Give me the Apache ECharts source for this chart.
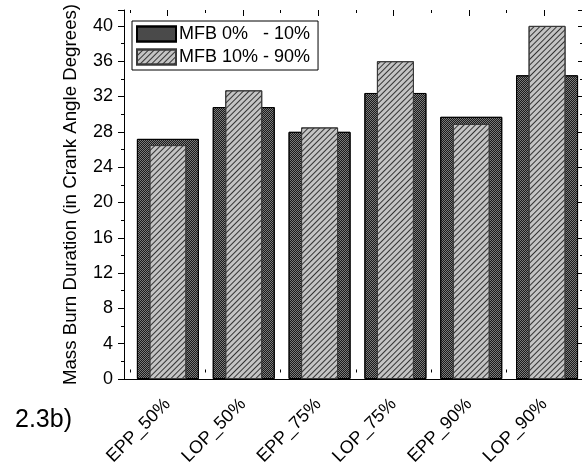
<!DOCTYPE html>
<html>
<head>
<meta charset="utf-8">
<script src="https://cdn.jsdelivr.net/npm/echarts@6/dist/echarts.min.js"></script>
<style>
html,body{margin:0;padding:0;background:#fff;}
#chart{width:582px;height:468px;}
</style>
</head>
<body>
<div id="chart"></div>
<script>
const categories = ['EPP_50%', 'LOP_50%', 'EPP_75%', 'LOP_75%', 'EPP_90%', 'LOP_90%'];
const seriesNames = ['MFB 0%   - 10%', 'MFB 10% - 90%'];
const mfb0to10 = [27.2, 30.8, 28.0, 32.4, 29.7, 34.4];
const mfb10to90 = [26.5, 32.7, 28.5, 36.0, 28.9, 40.0];
const yTicks = { min: 0, max: 41.8, interval: 4 };
const panelLabel = '2.3b)';

const FONT = 'Liberation Sans, Arial, sans-serif';
const positions = categories.map((c, i) => i + 1);

const chart = echarts.init(document.getElementById('chart'), null, { renderer: 'canvas' });

const option = {
  animation: false,
  backgroundColor: '#fff',
  textStyle: { fontFamily: FONT, color: '#000' },
  title: {
    text: panelLabel,
    left: 10,
    top: 403,
    textStyle: { fontFamily: FONT, fontSize: 25, fontWeight: 'normal', color: '#000' }
  },
  legend: {
    data: seriesNames,
    orient: 'vertical',
    left: 132,
    top: 21,
    padding: [4, 8, 4, 4],
    itemWidth: 39,
    itemHeight: 15,
    itemGap: 5,
    icon: 'rect',
    borderColor: '#000',
    borderWidth: 1,
    textStyle: { fontFamily: FONT, fontSize: 18, color: '#000', padding: [0, 0, 0, -2] }
  },
  grid: [
    { left: 124, top: 10, width: 459, bottom: 89, containLabel: false },
    { left: 130, top: 10, width: 456, bottom: 89, containLabel: false }
  ],
  xAxis: [
    {
      type: 'value', gridIndex: 0, position: 'bottom',
      min: 1 - 44 / 76, max: 1 - 44 / 76 + 459 / 76,
      axisLine: { show: true, lineStyle: { color: '#000', width: 1 } },
      axisTick: { show: false }, axisLabel: { show: false }, splitLine: { show: false }
    },
    {
      type: 'value', gridIndex: 0, position: 'top',
      min: 1 - 44 / 76, max: 1 - 44 / 76 + 459 / 76,
      axisLine: { show: true, lineStyle: { color: '#000', width: 1 } },
      axisTick: { show: false }, axisLabel: { show: false }, splitLine: { show: false }
    },
    {
      type: 'category', gridIndex: 1, position: 'bottom', data: categories,
      axisLine: { show: false },
      axisTick: { show: true, inside: false, length: 3, lineStyle: { color: '#000' } },
      axisLabel: { show: true, rotate: 45, margin: 32, fontFamily: FONT, fontSize: 18, color: '#000' },
      splitLine: { show: false }
    },
    {
      type: 'category', gridIndex: 1, position: 'bottom', data: categories,
      axisLine: { show: false },
      axisTick: { show: true, alignWithLabel: true, inside: false, length: 6, lineStyle: { color: '#000' } },
      axisLabel: { show: false }, splitLine: { show: false }
    },
    {
      type: 'category', gridIndex: 1, position: 'top', data: categories,
      axisLine: { show: false },
      axisTick: { show: true, inside: true, length: 3, lineStyle: { color: '#000' } },
      axisLabel: { show: false }, splitLine: { show: false }
    },
    {
      type: 'category', gridIndex: 1, position: 'top', data: categories,
      axisLine: { show: false },
      axisTick: { show: true, alignWithLabel: true, inside: true, length: 6, lineStyle: { color: '#000' } },
      axisLabel: { show: false }, splitLine: { show: false }
    }
  ],
  yAxis: [
    {
      type: 'value', gridIndex: 0, position: 'left',
      min: yTicks.min, max: yTicks.max, interval: yTicks.interval,
      name: 'Mass Burn Duration (in Crank Angle Degrees)',
      nameLocation: 'middle', nameGap: 44,
      nameTextStyle: { fontFamily: FONT, fontSize: 18.7, color: '#000' },
      axisLine: { show: true, lineStyle: { color: '#000', width: 1 } },
      axisTick: { show: true, inside: false, length: 6, lineStyle: { color: '#000' } },
      minorTick: { show: true, splitNumber: 2, length: 3, lineStyle: { color: '#000' } },
      axisLabel: { show: true, margin: 11, fontFamily: FONT, fontSize: 18, color: '#000',
        formatter: v => (v % 4 === 0 ? String(v) : '') },
      splitLine: { show: false }
    },
    {
      type: 'value', gridIndex: 0, position: 'right',
      min: yTicks.min, max: yTicks.max, interval: yTicks.interval,
      axisLine: { show: true, lineStyle: { color: '#000', width: 1 } },
      axisTick: { show: true, inside: true, length: 4, lineStyle: { color: '#000' } },
      minorTick: { show: true, splitNumber: 2, length: 2, lineStyle: { color: '#000' } },
      axisLabel: { show: false }, splitLine: { show: false }
    },
    {
      type: 'value', gridIndex: 1, show: false, min: 0, max: 1
    }
  ],
  series: [
    {
      name: seriesNames[0], type: 'bar', xAxisIndex: 0, yAxisIndex: 0,
      barWidth: 62,
      data: positions.map((p, i) => [p, mfb0to10[i]]),
      itemStyle: {
        color: '#7a7a7a', borderColor: '#000', borderWidth: 1,
        decal: { symbol: 'rect', color: '#1a1a1a', dashArrayX: [[1, 1], [0, 1, 1, 0]], dashArrayY: [1, 0], symbolSize: 1, rotation: 0 }
      },
      z: 2
    },
    {
      name: seriesNames[1], type: 'bar', xAxisIndex: 1, yAxisIndex: 0,
      barWidth: 37,
      data: positions.map((p, i) => [p, mfb10to90[i]]),
      itemStyle: {
        color: '#c4c4c4', borderColor: '#3a3a3a', borderWidth: 1,
        decal: { symbol: 'rect', color: '#333', dashArrayX: [1, 0], dashArrayY: [1, 3], symbolSize: 1, rotation: -Math.PI / 4 }
      },
      z: 3
    }
  ]
};

chart.setOption(option);
</script>
</body>
</html>
